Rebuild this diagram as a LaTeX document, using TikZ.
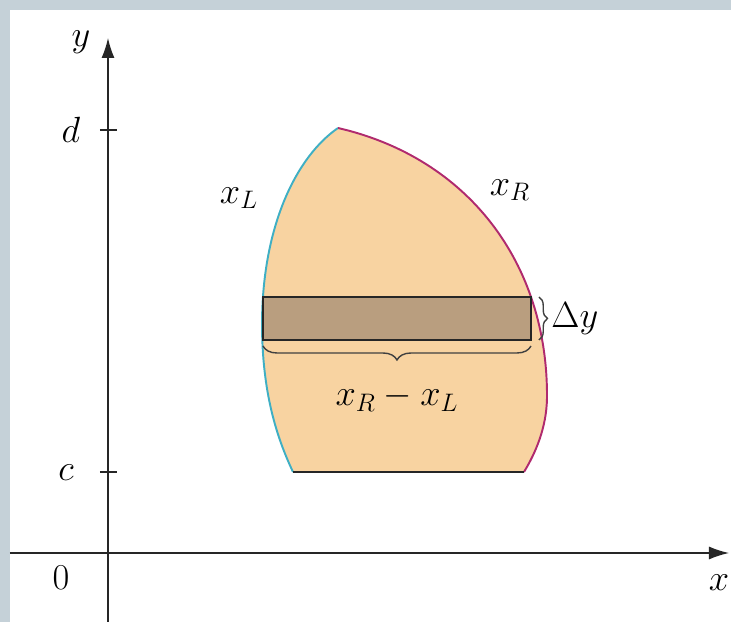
\documentclass[tikz,border=0pt]{standalone}
\usepackage{tikz}
\usetikzlibrary{arrows.meta, positioning, calc, decorations.pathreplacing}

\definecolor{framegray}{HTML}{C5D1D8}
\definecolor{peach}{HTML}{F8D3A1}
\definecolor{stripbrown}{HTML}{B99E7F}
\definecolor{leftcyan}{HTML}{3FAFC4}
\definecolor{rightmag}{HTML}{B02A6E}

\begin{document}
\begin{tikzpicture}[
  font=\fontsize{22pt}{26pt}\selectfont,
  axis/.style={thick, black!85, -{Latex[length=4mm, width=2.6mm]}},
  tick/.style={thick, black!85},
  lbl/.style={inner sep=1pt, text=black},
  bound/.style={line width=1.1pt},
  brace/.style={thick, black!75, decorate, decoration={brace, amplitude=#1}},
]

% ---- page and frame ----
\useasboundingbox (-2.16,-1.38) rectangle (12.46,11.06);
\fill[framegray] (-2.16,10.86) rectangle (12.46,11.06);
\fill[framegray] (-2.16,-1.38) rectangle (-1.96,11.06);

% ---- corner points of the region ----
\coordinate (top) at (4.6,8.5);
\coordinate (bl) at (3.7,1.62);
\coordinate (br) at (8.32,1.62);
\coordinate (lmid) at (3.08,4.6);
\coordinate (rmid) at (8.78,3.1);

% ---- region ----
\fill[peach] (bl) .. controls (3.38,2.3) and (3.08,3.2) .. (lmid)
  .. controls (3.09,6.6) and (3.8,7.95) .. (top)
  .. controls (7.2,7.9) and (8.8,5.8) .. (rmid)
  .. controls (8.77,2.5) and (8.55,2.0) .. (br) -- cycle;
\draw[bound, leftcyan] (bl) .. controls (3.38,2.3) and (3.08,3.2) .. (lmid)
  .. controls (3.09,6.6) and (3.8,7.95) .. (top);
\draw[bound, rightmag] (top) .. controls (7.2,7.9) and (8.8,5.8) .. (rmid)
  .. controls (8.77,2.5) and (8.55,2.0) .. (br);
\draw[bound, black!85] (bl) -- (br);

% ---- horizontal strip ----
\draw[thick, black!85, fill=stripbrown] (3.1,4.26) rectangle (8.46,5.12);
\draw[brace=0.28cm] (8.46,4.14) -- (3.1,4.14) node[midway, below=0.72cm, lbl] (width) {$x_R - x_L$};
\draw[brace=0.17cm] (8.62,5.12) -- (8.62,4.26) node[midway, right=0.2cm, lbl] (dy) {$\Delta y$};

% ---- axes ----
\draw[axis] (0,-1.38) -- (0,10.3);
\draw[axis] (-1.96,0) -- (12.42,0);
\draw[tick] (-0.16,8.46) -- (0.18,8.46);
\draw[tick] (-0.16,1.62) -- (0.18,1.62);

% ---- labels ----
\node[lbl] (ylab) at (-0.54,10.22) {$y$};
\node[lbl] (xlab) at (12.22,-0.6) {$x$};
\node[lbl] (dlab) at (-0.74,8.46) {$d$};
\node[lbl] (clab) at (-0.84,1.6) {$c$};
\node[lbl] (zero) at (-0.94,-0.5) {$0$};
\node[lbl] (xl) at (2.62,7.1) {$x_L$};
\node[lbl] (xr) at (8.04,7.26) {$x_R$};

\end{tikzpicture}
\end{document}
